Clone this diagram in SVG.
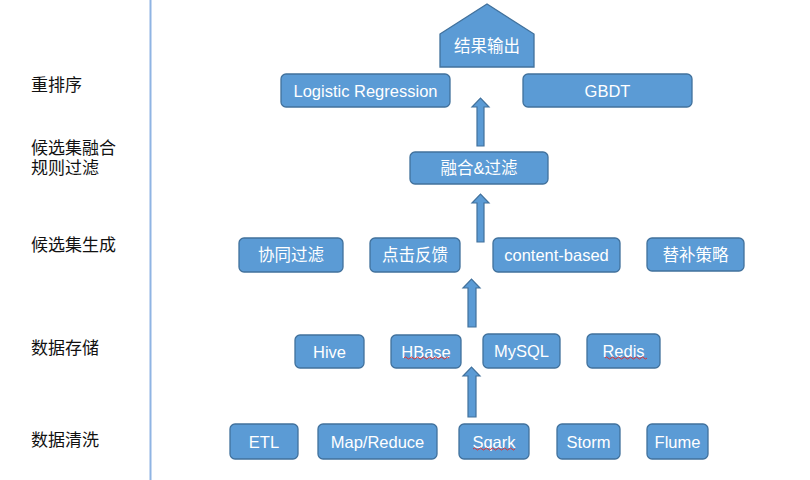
<svg xmlns="http://www.w3.org/2000/svg" width="810" height="480" viewBox="0 0 810 480">
<style>
.box{fill:#5b9bd5;stroke:#41719c;stroke-width:1.3}
.t{fill:#fff;font-family:"Liberation Sans","Noto Sans CJK SC",sans-serif;font-size:16.5px;text-anchor:middle;dominant-baseline:central}
.l{fill:#111;font-family:"Liberation Sans","Noto Sans CJK SC",sans-serif;font-size:17px}
.arr{fill:#5b9bd5;stroke:#41719c;stroke-width:1.2}
.sq{fill:none;stroke:#e03030;stroke-width:1}
</style>
<rect width="810" height="480" fill="#fff"/>
<line x1="150.5" y1="0" x2="150.5" y2="480" stroke="#8fb4e3" stroke-width="2"/>
<g id="labels">
<text class="l" x="31" y="91">重排序</text>
<text class="l" x="31" y="154">候选集融合</text>
<text class="l" x="31" y="174">规则过滤</text>
<text class="l" x="31" y="251">候选集生成</text>
<text class="l" x="31" y="354">数据存储</text>
<text class="l" x="31" y="446">数据清洗</text>
</g>
<g id="result"><path class="box" d="M440,34 L487,4 L534,34 L534,67 L440,67 Z"/><text class="t" x="487" y="46">结果输出</text></g>
<g id="lr"><rect class="box" x="281" y="74" width="169" height="33" rx="5"/><text class="t" x="365.5" y="91">Logistic Regression</text></g>
<g id="gbdt"><rect class="box" x="523" y="74" width="169" height="33" rx="5"/><text class="t" x="607.5" y="91">GBDT</text></g>
<g id="fuse"><rect class="box" x="410" y="152" width="138" height="32" rx="5"/><text class="t" x="479" y="168">融合&amp;过滤</text></g>
<g id="cf"><rect class="box" x="239" y="238" width="104" height="34" rx="5"/><text class="t" x="291" y="255">协同过滤</text></g>
<g id="click"><rect class="box" x="370" y="238" width="90" height="34" rx="5"/><text class="t" x="415" y="255">点击反馈</text></g>
<g id="cb"><rect class="box" x="493" y="238" width="127" height="34" rx="5"/><text class="t" x="556.5" y="255">content-based</text></g>
<g id="sub"><rect class="box" x="647" y="238" width="97" height="33" rx="5"/><text class="t" x="695.5" y="254.5">替补策略</text></g>
<g id="hive"><rect class="box" x="295" y="335" width="69" height="33" rx="5"/><text class="t" x="329.5" y="352">Hive</text></g>
<g id="hbase"><rect class="box" x="391" y="335" width="70" height="33" rx="5"/><text class="t" x="426" y="352">HBase</text><path class="sq" d="M404,358 q1.5,-2 3,0 t3,0 t3,0 t3,0 t3,0 t3,0 t3,0 t3,0 t3,0 t3,0 t3,0 t3,0 t3,0 t3,0 t3,0"/></g>
<g id="mysql"><rect class="box" x="483" y="334" width="77" height="34" rx="5"/><text class="t" x="521.5" y="351">MySQL</text></g>
<g id="redis"><rect class="box" x="587" y="334" width="73" height="34" rx="5"/><text class="t" x="623.5" y="351">Redis</text><path class="sq" d="M605,358 q1.5,-2 3,0 t3,0 t3,0 t3,0 t3,0 t3,0 t3,0 t3,0 t3,0 t3,0 t3,0 t3,0 t3,0 t3,0"/></g>
<g id="etl"><rect class="box" x="230" y="424" width="68" height="35" rx="5"/><text class="t" x="264" y="441.5">ETL</text></g>
<g id="mr"><rect class="box" x="318" y="424" width="119" height="35" rx="5"/><text class="t" x="377.5" y="441.5">Map/Reduce</text></g>
<g id="spark"><rect class="box" x="459" y="424" width="70" height="35" rx="5"/><text class="t" x="494" y="441.5">Sqark</text><path class="sq" d="M473,449 q1.5,-2 3,0 t3,0 t3,0 t3,0 t3,0 t3,0 t3,0 t3,0 t3,0 t3,0 t3,0 t3,0 t3,0 t3,0"/></g>
<g id="storm"><rect class="box" x="557" y="424" width="63" height="35" rx="5"/><text class="t" x="588.5" y="441.5">Storm</text></g>
<g id="flume"><rect class="box" x="647" y="424" width="61" height="35" rx="5"/><text class="t" x="677.5" y="441.5">Flume</text></g>
<g id="connectors">
<path class="arr" d="M477,146 L477,107 L472,107 L480.5,98 L489,107 L484,107 L484,146 Z"/>
<path class="arr" d="M477,242 L477,203 L472,203 L480.5,194 L489,203 L484,203 L484,242 Z"/>
<path class="arr" d="M468,327 L468,288 L463,288 L471.5,279 L480,288 L476,288 L476,327 Z"/>
<path class="arr" d="M468,417 L468,376 L463,376 L471.5,367 L480,376 L476,376 L476,417 Z"/>
</g>
</svg>
